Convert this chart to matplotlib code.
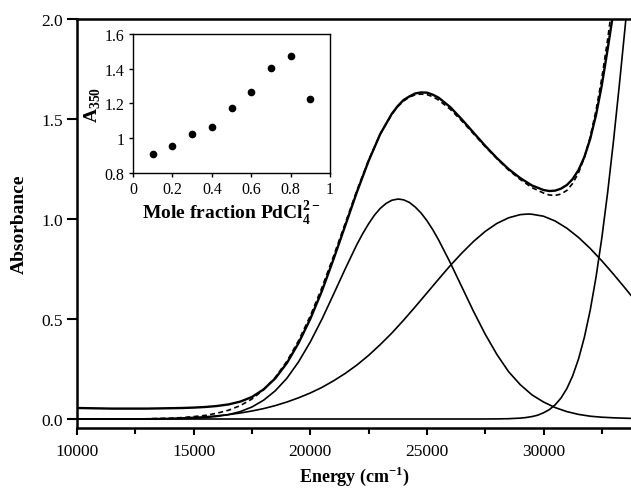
import matplotlib
matplotlib.use("Agg")
import matplotlib.pyplot as plt

plt.rcParams['font.family'] = ['Liberation Serif', 'DejaVu Serif']
plt.rcParams['mathtext.fontset'] = 'custom'
plt.rcParams['mathtext.rm'] = 'Liberation Serif'
plt.rcParams['mathtext.bf'] = 'Liberation Serif:bold'

# ---------------- main spectrum data ----------------
energy = [10000, 10500, 11000, 11500, 12000, 12500, 13000, 13500, 14000, 14500,
          15000, 15500, 16000, 16500, 17000, 17500, 18000, 18500, 19000, 19500,
          20000, 20500, 21000, 21500, 22000, 22500, 23000, 23500, 23750, 24000,
          24250, 24500, 24750, 25000, 25250, 25500, 26000, 26500, 27000, 27500,
          28000, 28500, 29000, 29500, 30000, 30250, 30500, 30750, 31000, 31250,
          31500, 31750, 32000, 32250, 32500, 32750, 33000, 33250]

observed = [0.055, 0.054, 0.053, 0.052, 0.052, 0.052, 0.052, 0.053, 0.054, 0.055,
            0.057, 0.060, 0.065, 0.073, 0.087, 0.110, 0.148, 0.203, 0.280, 0.380,
            0.500, 0.640, 0.800, 0.967, 1.135, 1.290, 1.425, 1.527, 1.565, 1.595,
            1.613, 1.628, 1.633, 1.632, 1.622, 1.607, 1.560, 1.498, 1.432, 1.366,
            1.305, 1.250, 1.205, 1.168, 1.145, 1.140, 1.142, 1.152, 1.170, 1.200,
            1.245, 1.310, 1.400, 1.520, 1.670, 1.850, 2.040, 2.250]

fit = [0.000, 0.000, 0.000, 0.000, 0.000, 0.000, 0.001, 0.003, 0.004, 0.007,
       0.012, 0.018, 0.029, 0.044, 0.067, 0.100, 0.146, 0.208, 0.289, 0.392,
       0.515, 0.657, 0.815, 0.979, 1.143, 1.294, 1.425, 1.524, 1.562, 1.590,
       1.610, 1.621, 1.625, 1.622, 1.612, 1.595, 1.549, 1.490, 1.426, 1.362,
       1.302, 1.245, 1.198, 1.157, 1.130, 1.120, 1.118, 1.125, 1.143, 1.178,
       1.231, 1.307, 1.410, 1.543, 1.706, 1.899, 2.121, 2.364]

band1_x = [10000, 12000, 13000, 13500, 14000, 14500, 15000, 15500, 16000, 16500,
           17000, 17500, 18000, 18500, 19000, 19500, 20000, 20500, 21000, 21500,
           22000, 22250, 22500, 22750, 23000, 23250, 23500, 23770, 24000, 24250,
           24500, 24750, 25000, 25250, 25500, 26000, 26500, 27000, 27500, 28000,
           28500, 29000, 29500, 30000, 30500, 31000, 31500, 32000, 32500, 33000,
           33500, 33750]
band1_y = [0.000, 0.000, 0.0002, 0.0005, 0.001, 0.002, 0.004, 0.007, 0.013, 0.022,
           0.037, 0.060, 0.094, 0.141, 0.204, 0.286, 0.385, 0.499, 0.624, 0.751,
           0.873, 0.927, 0.976, 1.019, 1.053, 1.078, 1.094, 1.100, 1.096, 1.083,
           1.060, 1.030, 0.992, 0.947, 0.896, 0.782, 0.660, 0.538, 0.424, 0.323,
           0.237, 0.172, 0.121, 0.085, 0.057, 0.037, 0.023, 0.014, 0.009, 0.006,
           0.004, 0.003]

band2_x = [10000, 12500, 13000, 13500, 14000, 14500, 15000, 15500, 16000, 16500,
           17000, 17500, 18000, 18500, 19000, 19500, 20000, 20500, 21000, 21500,
           22000, 22500, 23000, 23500, 24000, 24500, 25000, 25500, 26000, 26500,
           27000, 27500, 28000, 28500, 29000, 29345, 29500, 30000, 30500, 31000,
           31500, 32000, 32500, 33000, 33500, 33750]
band2_y = [0.000, 0.000, 0.001, 0.002, 0.003, 0.005, 0.008, 0.011, 0.016, 0.022,
           0.030, 0.040, 0.052, 0.067, 0.085, 0.106, 0.130, 0.158, 0.191, 0.228,
           0.270, 0.318, 0.372, 0.430, 0.494, 0.561, 0.630, 0.699, 0.767, 0.830,
           0.888, 0.938, 0.978, 1.006, 1.022, 1.025, 1.024, 1.014, 0.990, 0.954,
           0.908, 0.853, 0.791, 0.724, 0.654, 0.618]

band3_x = [10000, 27000, 27500, 28000, 28500, 29000, 29250, 29500, 29750, 30000,
           30250, 30500, 30750, 31000, 31250, 31500, 31750, 32000, 32250, 32500,
           32750, 33000, 33250, 33500, 33750]
band3_y = [0.000, 0.000, 0.0001, 0.0005, 0.0015, 0.0044, 0.0073, 0.012, 0.019, 0.031,
           0.047, 0.071, 0.105, 0.152, 0.216, 0.300, 0.408, 0.543, 0.709, 0.906,
           1.134, 1.391, 1.670, 1.963, 2.261]

# ---------------- inset data ----------------
mole_fraction = [0.1, 0.2, 0.3, 0.4, 0.5, 0.6, 0.7, 0.8, 0.9]
a350 = [0.909, 0.955, 1.025, 1.067, 1.172, 1.264, 1.407, 1.476, 1.226]

main_yticks = [0.0, 0.5, 1.0, 1.5, 2.0]
main_xticks = [10000, 15000, 20000, 25000, 30000]
inset_xticks = [0, 0.2, 0.4, 0.6, 0.8, 1]
inset_xlabels = ['0', '0.2', '0.4', '0.6', '0.8', '1']
inset_yticks = [0.8, 1.0, 1.2, 1.4, 1.6]
inset_ylabels = ['0.8', '1', '1.2', '1.4', '1.6']

fig = plt.figure(figsize=(6.31, 4.89), dpi=100)
ax = fig.add_axes([0.122, 0.1227, 0.878, 0.8363])

ax.plot(band1_x, band1_y, color='black', lw=1.2)
ax.plot(band2_x, band2_y, color='black', lw=1.2)
ax.plot(band3_x, band3_y, color='black', lw=1.2)
ax.plot(energy, fit, color='black', lw=1.2, ls=(0, (3, 2)))
ax.plot(energy, observed, color='black', lw=1.7)

ax.set_xlim(10000, 33750)
ax.set_ylim(-0.045, 2.0)
ax.set_xticks(main_xticks)
ax.set_xticks([12500, 17500, 22500, 27500, 32500], minor=True)
ax.set_yticks(main_yticks)
ax.set_yticklabels([f'{v:.1f}' for v in main_yticks])
ax.tick_params(axis='both', direction='out', labelsize=12.5, width=1.5, colors='black')
ax.tick_params(axis='y', length=7, pad=3)
ax.tick_params(axis='x', which='major', length=5, pad=6)
ax.tick_params(axis='x', which='minor', length=4, width=1.5)
for s in ['left', 'bottom', 'top']:
    ax.spines[s].set_linewidth(1.8)
ax.spines['right'].set_visible(False)
ax.set_ylabel('Absorbance', fontsize=14, fontweight='bold', labelpad=10)
ax.set_xlabel('Energy (cm$^{\\mathbf{-1}}$)', fontsize=13, fontweight='bold', labelpad=3)

# ---------------- inset ----------------
ins = fig.add_axes([0.2108, 0.6442, 0.3122, 0.2842])
ins.plot(mole_fraction, a350, 'o', color='black', markersize=4.5)
ins.set_xlim(0, 1)
ins.set_ylim(0.8, 1.6)
ins.set_xticks(inset_xticks)
ins.set_xticklabels(inset_xlabels)
ins.set_yticks(inset_yticks)
ins.set_yticklabels(inset_ylabels)
ins.tick_params(direction='out', labelsize=11.5, length=3, width=1.0, pad=3)
for s in ins.spines.values():
    s.set_linewidth(1.0)
ins.set_xlabel('Mole fraction PdCl$_\\mathbf{4}^{\\mathbf{2-}}$', fontsize=14, fontweight='bold', labelpad=1)
ins.set_ylabel('A$_{\\mathbf{350}}$', fontsize=14, fontweight='bold', labelpad=1)

fig.savefig('out.png', dpi=100)
